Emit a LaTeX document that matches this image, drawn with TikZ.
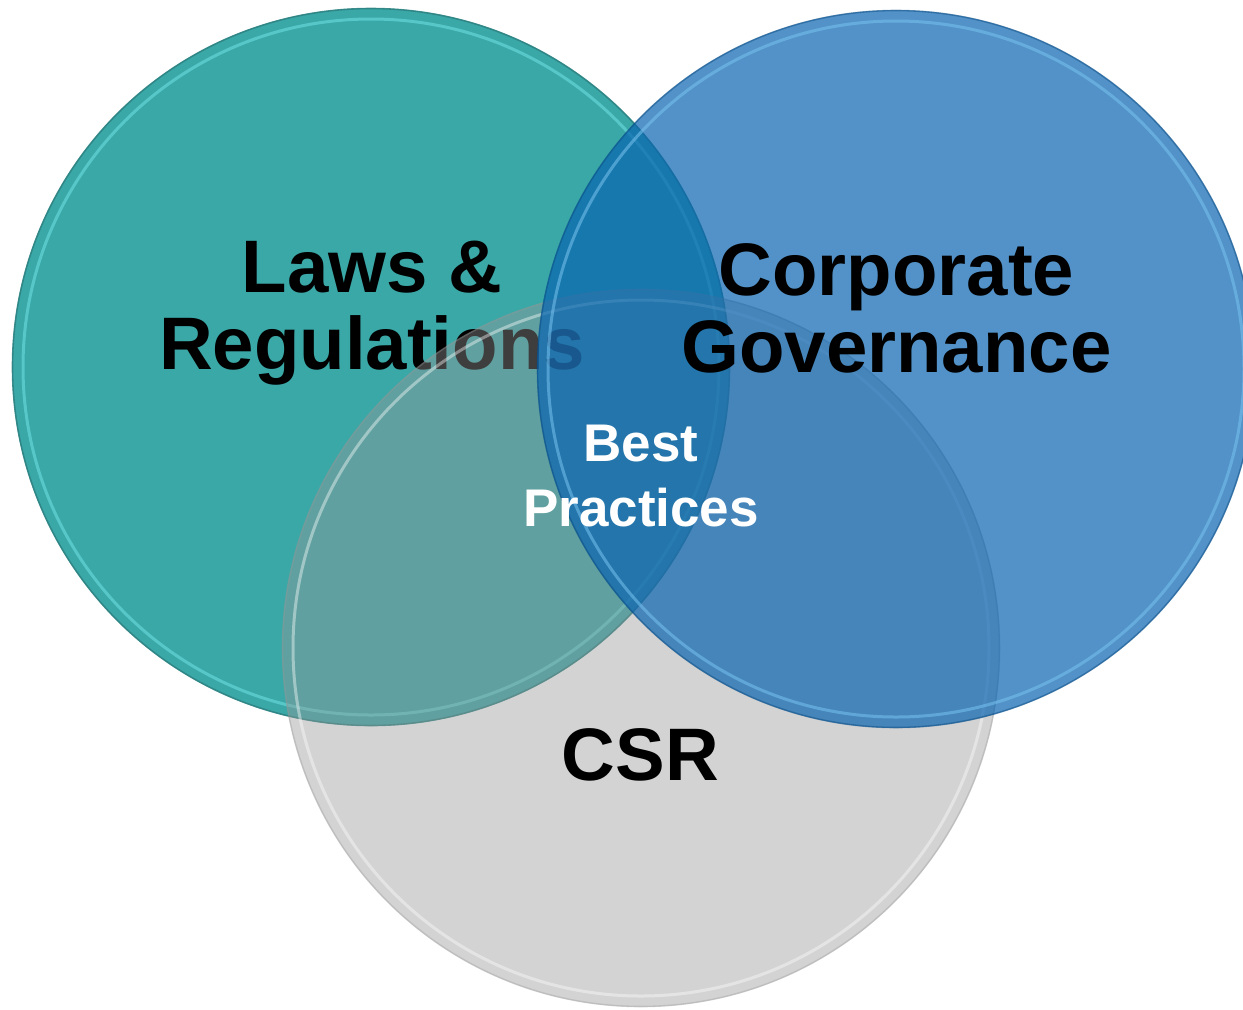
\documentclass[tikz,border=0pt]{standalone}
\usepackage{fontspec}
\setmainfont{Liberation Sans}
\usepackage{xcolor}

\definecolor{lawsteal}{RGB}{59,168,168}
\definecolor{csrgray}{RGB}{150,150,150}
\definecolor{govblue}{RGB}{9,100,176}
\definecolor{tealrim}{RGB}{110,225,225}
\definecolor{bluerim}{RGB}{120,195,240}

\tikzset{
  bigtext/.style={font=\bfseries\fontsize{37.2}{38.7}\selectfont, align=center, inner sep=0pt},
  smalltext/.style={font=\bfseries\fontsize{26.5}{32.5}\selectfont, align=center, inner sep=0pt, text=white},
  edgeline/.style={line width=0.8pt},
  rimline/.style={line width=1.5pt}
}

\begin{document}
\begin{tikzpicture}[x=0.5pt,y=-0.5pt]

\useasboundingbox (0,0) rectangle (1243,1009);

% left circle
{
\fill[lawsteal] (371,367) circle [radius=359];
\draw[edgeline, lawsteal!75!black, opacity=0.8] (371,367) circle [radius=358.5];
\draw[rimline, tealrim, opacity=0.55] (371,367) circle [radius=348];
}

\node[bigtext] (laws) at (372,313) {Laws \&\\Regulations};

% bottom circle
{
\fill[csrgray, opacity=0.42] (641,648) circle [radius=359];
\draw[edgeline, csrgray, opacity=0.35] (641,648) circle [radius=358.5];
\draw[rimline, white, opacity=0.4] (641,648) circle [radius=348];
}

\node[bigtext, anchor=base] (csr) at (640.5,780) {CSR};

% right circle
{
\fill[govblue, opacity=0.7] (896,369) circle [radius=359];
\draw[edgeline, govblue!70!black, opacity=0.45] (896,369) circle [radius=358.5];
\draw[rimline, bluerim, opacity=0.55] (896,369) circle [radius=348];
}

% nodes
{
\node[bigtext] (gov) at (896.5,308.5) {Corporate\\Governance};
\node[smalltext] (best) at (641,476) {Best\\Practices};
}

\end{tikzpicture}
\end{document}
